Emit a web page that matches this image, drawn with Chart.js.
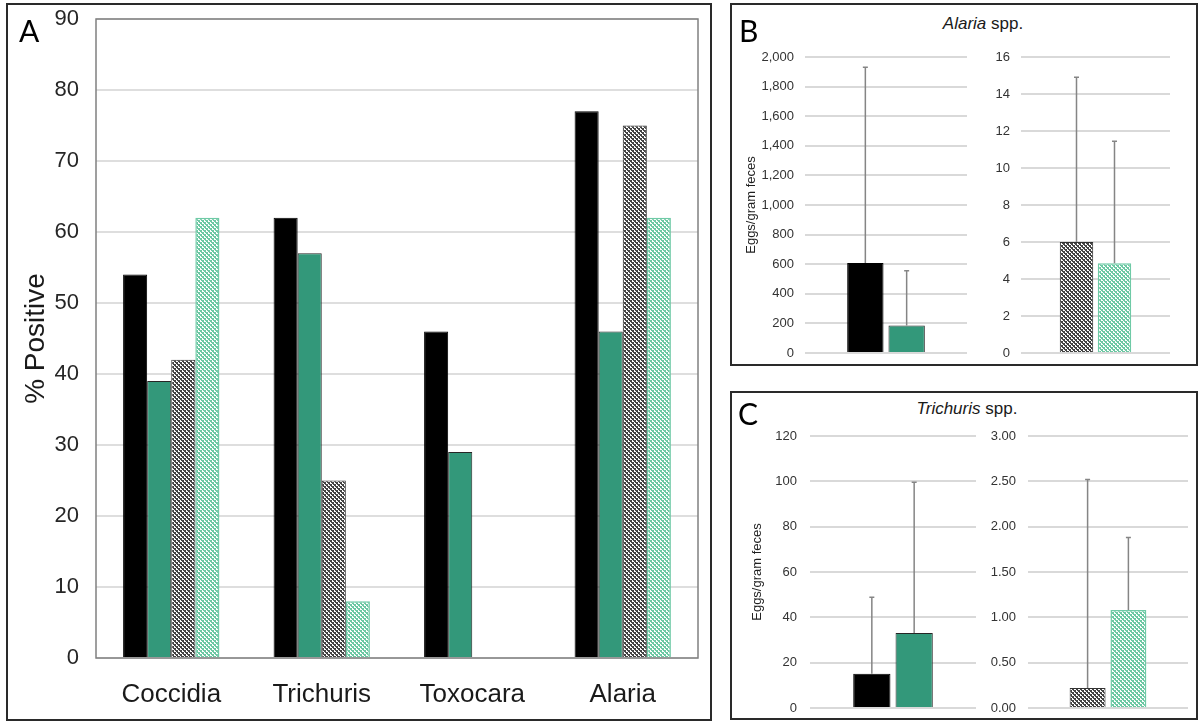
<!DOCTYPE html>
<html>
<head>
<meta charset="utf-8">
<script src="https://cdn.jsdelivr.net/npm/chart.js@4.4.1/dist/chart.umd.min.js"></script>
<style>
  html, body { margin: 0; padding: 0; background: #fff; }
  #fig { position: relative; width: 1199px; height: 722px; overflow: hidden;
         font-family: "Liberation Sans", Arial, sans-serif; }
  .panel { position: absolute; border: 2px solid #2a2a2a; box-sizing: border-box; }
  .letter { position: absolute; font-family: Lato, "Open Sans", sans-serif; font-size: 30px;
            line-height: 30px; color: #000; }
  .title { position: absolute; width: 240px; text-align: center; font-size: 17px;
           line-height: 17px; color: #1a1a1a; white-space: nowrap; }
  canvas { position: absolute; }
</style>
</head>
<body>
<div id="fig">
  <div class="panel" style="left:6px;top:3px;width:706px;height:718px"></div>
  <div class="panel" style="left:730px;top:3px;width:468px;height:363px"></div>
  <div class="panel" style="left:730px;top:391px;width:468px;height:329px"></div>

  <canvas id="chartA"></canvas>
  <canvas id="chartB1"></canvas>
  <canvas id="chartB2"></canvas>
  <canvas id="chartC1"></canvas>
  <canvas id="chartC2"></canvas>

  <div class="letter" style="left:19px;top:15px">A</div>
  <div class="letter" style="left:739px;top:15px">B</div>
  <div class="letter" style="left:738px;top:398px">C</div>
  <div class="title" style="left:863px;top:15px"><i>Alaria</i> spp.</div>
  <div class="title" style="left:847px;top:400px"><i>Trichuris</i> spp.</div>
</div>

<script>
// ---- Prevalence (% positive) by parasite and group ----
const categories = ['Coccidia', 'Trichuris', 'Toxocara', 'Alaria'];
const positiveBlack = [54, 62, 46, 77];
const positiveGreen = [39, 57, 29, 46];
const positiveGrey  = [42, 25, null, 75];
const positiveMint  = [62, 8, null, 62];

// ---- Alaria spp. eggs/gram feces (mean and upper error) ----
const alariaMeanSolid = [608, 186];
const alariaErrSolid  = [1322, 369];
const alariaMeanHatch = [6.0, 4.85];
const alariaErrHatch  = [8.9, 6.6];

// ---- Trichuris spp. eggs/gram feces (mean and upper error) ----
const trichMeanSolid = [15.1, 33.1];
const trichErrSolid  = [33.8, 66.5];
const trichMeanHatch = [0.22, 1.08];
const trichErrHatch  = [2.30, 0.80];

Chart.defaults.font.family = '"Liberation Sans", Arial, sans-serif';
Chart.defaults.animation = false;

const GREEN = '#33987a';

// small two-tone checker tile used as a bar fill
function checker(ctx, color) {
  const t = document.createElement('canvas');
  t.width = 4; t.height = 4;
  const c = t.getContext('2d');
  c.fillStyle = '#ffffff'; c.fillRect(0, 0, 4, 4);
  c.fillStyle = color;
  c.fillRect(0, 0, 2, 2);
  c.fillRect(2, 2, 2, 2);
  c.fillRect(3, 0, 1, 1);
  c.fillRect(1, 2, 1, 1);
  return ctx.createPattern(t, 'repeat');
}

function barStyles(ctx) {
  return [
    { backgroundColor: '#000000', borderColor: '#000000', borderWidth: 1 },
    { backgroundColor: GREEN, borderColor: '#262626', borderWidth: 1 },
    { backgroundColor: checker(ctx, '#444444'), borderColor: '#333333', borderWidth: 1 },
    { backgroundColor: checker(ctx, '#6cc8a3'), borderColor: '#6fcaa6', borderWidth: 1.5 }
  ];
}

// Upper error whiskers drawn from each bar's top
const errorBars = {
  id: 'errorBars',
  afterDatasetsDraw(chart) {
    const ctx = chart.ctx, y = chart.scales.y;
    chart.data.datasets.forEach((ds, di) => {
      if (!ds.errPlus) return;
      chart.getDatasetMeta(di).data.forEach((bar, i) => {
        const v = ds.data[i], e = ds.errPlus[i];
        if (v == null || e == null) return;
        const top = y.getPixelForValue(v + e);
        ctx.save();
        ctx.strokeStyle = '#858585';
        ctx.lineWidth = 1.5;
        ctx.beginPath();
        ctx.moveTo(bar.x, bar.y);
        ctx.lineTo(bar.x, top);
        ctx.moveTo(bar.x - 2.5, top);
        ctx.lineTo(bar.x + 2.5, top);
        ctx.stroke();
        ctx.restore();
      });
    });
  }
};

// Plot-area frame for the prevalence chart
const plotFrame = {
  id: 'plotFrame',
  beforeDatasetsDraw(chart) {
    const { ctx, chartArea: a } = chart;
    ctx.save();
    ctx.strokeStyle = '#808080';
    ctx.lineWidth = 1.5;
    ctx.strokeRect(a.left, a.top, a.right - a.left, a.bottom - a.top);
    ctx.restore();
  }
};

function placeCanvas(id, plot, axisW, padTop, bottom) {
  const cv = document.getElementById(id);
  const left = plot.l - axisW, top = plot.t - padTop;
  cv.style.left = left + 'px';
  cv.style.top = top + 'px';
  cv.width = plot.r - left + 4;
  cv.height = plot.b - top + bottom;
  return cv;
}

// fixed axis width, no extra room reserved for end labels
function fixAxis(w) {
  return s => { s.width = w; s.paddingTop = 0; s.paddingBottom = 0; };
}

// ---- Panel A ----
(function () {
  const plot = { l: 96, t: 19, r: 698, b: 658 };
  const axisW = 86, padTop = 15, bottom = 58;
  const cv = placeCanvas('chartA', plot, axisW, padTop, bottom);
  const st = barStyles(cv.getContext('2d'));
  const series = [positiveBlack, positiveGreen, positiveGrey, positiveMint];
  new Chart(cv, {
    type: 'bar',
    data: {
      labels: categories,
      datasets: series.map((d, i) => Object.assign({ data: d }, st[i]))
    },
    options: {
      responsive: false,
      layout: { padding: { top: padTop, right: 4, bottom: 0, left: 0 } },
      datasets: { bar: { categoryPercentage: 0.64, barPercentage: 1.0 } },
      plugins: { legend: { display: false }, tooltip: { enabled: false } },
      scales: {
        x: {
          grid: { display: false, drawTicks: false },
          border: { display: false },
          ticks: { color: '#1a1a1a', font: { size: 26 }, padding: 21 },
          afterFit: s => { s.height = bottom; s.paddingLeft = 0; s.paddingRight = 0; }
        },
        y: {
          min: 0, max: 90,
          grid: { color: '#dedede', lineWidth: 2, drawTicks: false },
          border: { display: false },
          ticks: { stepSize: 10, color: '#262626', font: { size: 22 }, padding: 17, autoSkip: false },
          title: { display: true, text: '% Positive', color: '#1a1a1a', font: { size: 28 },
                   padding: { top: 9, bottom: 0 } },
          afterFit: fixAxis(axisW)
        }
      }
    },
    plugins: [plotFrame]
  });
})();

// ---- Panels B and C ----
function smallChart(id, plot, axisW, means, errs, styleIdx, yMax, step, fmt, labelPad, titleCenter) {
  const padTop = 12, bottom = 10;
  const cv = placeCanvas(id, plot, axisW, padTop, bottom);
  const st = barStyles(cv.getContext('2d'));
  const yOpts = {
    min: 0, max: yMax,
    grid: { color: '#d9d9d9', lineWidth: 2, drawTicks: false },
    border: { display: false },
    ticks: { stepSize: step, color: '#333333', font: { size: 13 }, padding: labelPad,
             autoSkip: false, callback: fmt },
    afterFit: fixAxis(axisW)
  };
  if (titleCenter != null) {
    yOpts.title = { display: true, text: 'Eggs/gram feces', color: '#1f1f1f', font: { size: 13 },
                    padding: { top: titleCenter - (plot.l - axisW) - 7.8, bottom: 0 } };
  }
  new Chart(cv, {
    type: 'bar',
    data: {
      labels: [''],
      datasets: means.map((m, i) => Object.assign({ data: [m], errPlus: [errs[i]] }, st[styleIdx[i]]))
    },
    options: {
      responsive: false,
      layout: { padding: { top: padTop, right: 4, bottom: bottom, left: 0 } },
      datasets: { bar: { categoryPercentage: 0.51, barPercentage: 0.88 } },
      plugins: { legend: { display: false }, tooltip: { enabled: false } },
      scales: { x: { display: false }, y: yOpts }
    },
    plugins: [errorBars]
  });
}

const thousands = v => v.toLocaleString('en-US');
const plain = v => String(v);
const twoDp = v => v.toFixed(2);

smallChart('chartB1', { l: 805, t: 57, r: 967, b: 353 }, 80, alariaMeanSolid, alariaErrSolid,
           [0, 1], 2000, 200, thousands, 11, 751);
smallChart('chartB2', { l: 1021, t: 57, r: 1170, b: 353 }, 60, alariaMeanHatch, alariaErrHatch,
           [2, 3], 16, 2, plain, 11, null);
smallChart('chartC1', { l: 810, t: 436, r: 976, b: 708 }, 80, trichMeanSolid, trichErrSolid,
           [0, 1], 120, 20, plain, 13, 757);
smallChart('chartC2', { l: 1028, t: 436, r: 1188, b: 708 }, 60, trichMeanHatch, trichErrHatch,
           [2, 3], 3, 0.5, twoDp, 12, null);
</script>
</body>
</html>
